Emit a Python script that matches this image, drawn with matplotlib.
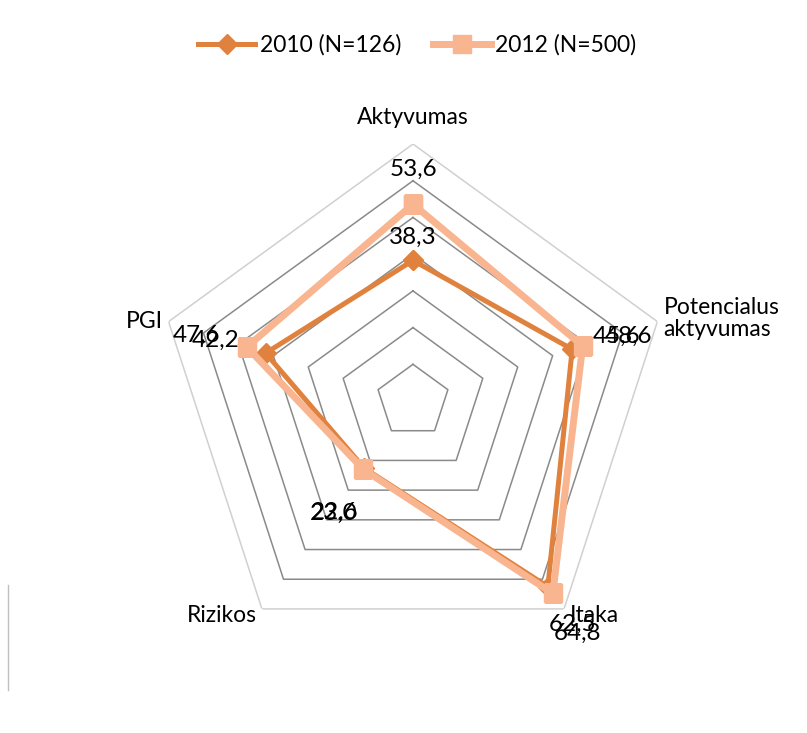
import numpy as np
import matplotlib
matplotlib.use("Agg")
import matplotlib.pyplot as plt
from matplotlib.lines import Line2D

plt.rcParams["font.family"] = ["Lato", "DejaVu Sans"]

# data
categories = ["Aktyvumas", "Potencialus\naktyvumas", "Įtaka", "Rizikos", "PGI"]
vals_2010 = [38.3, 45.6, 62.5, 22.6, 42.2]
vals_2012 = [53.6, 48.6, 64.8, 23.0, 47.6]
series_names = ["2010 (N=126)", "2012 (N=500)"]
rings = [10, 20, 30, 40, 50, 60, 70]

c2010 = "#E0823D"
c2012 = "#F8B58F"

n = len(categories)
theta = np.arange(n) * 2 * np.pi / n
theta_c = np.append(theta, theta[0])

fig = plt.figure(figsize=(8.07, 7.33), dpi=100)
ax = fig.add_axes([0.1933, 0.1023, 0.6369, 0.7012], projection="polar")
ax.set_theta_offset(np.pi / 2)
ax.set_theta_direction(-1)
ax.set_ylim(0, 70)
ax.grid(False)
ax.set_xticks([])
ax.set_yticks([])
ax.spines["polar"].set_visible(False)
ax.patch.set_alpha(0)

# pentagon grid
for r in rings:
    col = "#d0d0d0" if r == rings[-1] else "#8a8a8a"
    ax.plot(theta_c, [r] * (n + 1), color=col, lw=1.1, zorder=1)

# series
ax.plot(theta_c, np.append(vals_2010, vals_2010[0]), color=c2010, lw=3.6,
        marker="D", markersize=10, zorder=3, label=series_names[0])
ax.plot(theta_c, np.append(vals_2012, vals_2012[0]), color=c2012, lw=5,
        marker="s", markersize=13, zorder=4, label=series_names[1])

# category labels
cat_off = [(0, 27, "center"), (6, 3, "left"), (6, -7, "left"), (-5, -7, "right"), (-6, 0, "right")]
for t, name, (dx, dy, ha) in zip(theta, categories, cat_off):
    ax.annotate(name, xy=(t, 70), xytext=(dx, dy), textcoords="offset pixels",
                ha=ha, va="center", fontsize=16.5, annotation_clip=False,
                linespacing=1.1)

# value labels (overlapping as in the original)
off_2010 = [(0, 23), (44, 13), (25, -38), (-30, -44), (-50, 13)]
off_2012 = [(0, 35), (46, 10), (25, -40), (-30, -44), (-50, 12)]
for vals, offs in [(vals_2010, off_2010), (vals_2012, off_2012)]:
    for t, v, (dx, dy) in zip(theta, vals, offs):
        ax.annotate(f"{v:.1f}".replace(".", ","), xy=(t, v), xytext=(dx, dy),
                    textcoords="offset pixels", ha="center", va="center",
                    fontsize=17.5, zorder=5, annotation_clip=False)

fig.legend(loc="center", bbox_to_anchor=(0.517, 1 - 45 / 733), ncol=2, frameon=False,
           fontsize=16.5, handlelength=2.5, columnspacing=1.4, handletextpad=0.2)

# partial chart border
fig.add_artist(Line2D([8 / 807, 8 / 807], [1 - 690 / 733, 1 - 585 / 733],
                      color="#bfbfbf", lw=1))

fig.savefig("out.png", dpi=100)
